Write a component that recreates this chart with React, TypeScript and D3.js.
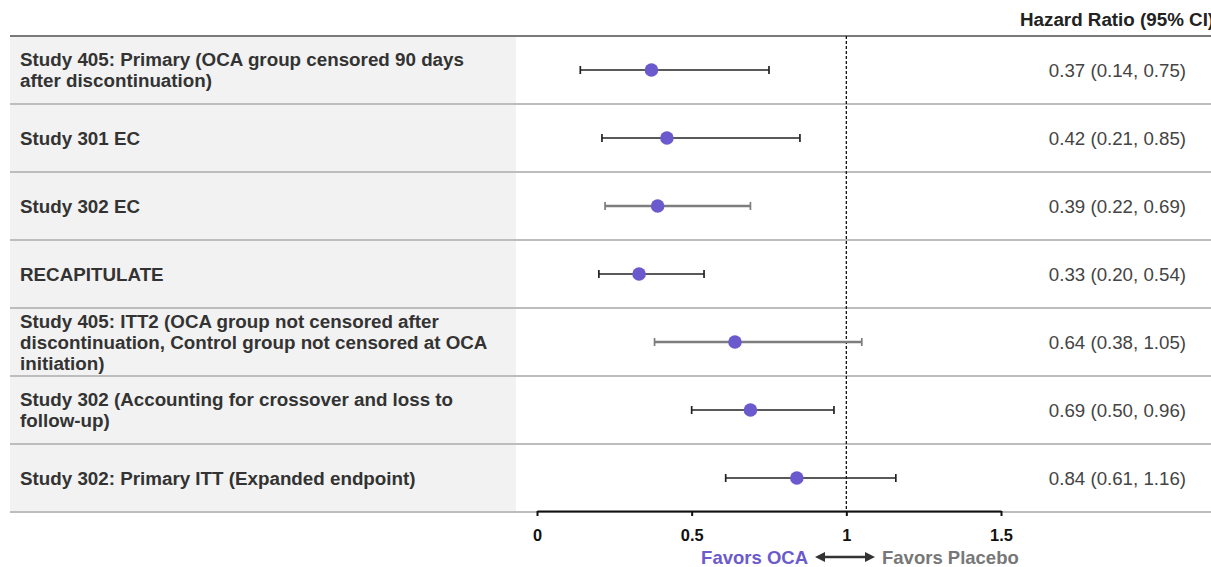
import React, { useEffect, useRef } from 'react';
import * as d3 from 'd3';

// study labels (already broken into lines as in the source)
const studyLabels: string[][] = [
  ['Study 405: Primary (OCA group censored 90 days', 'after discontinuation)'],
  ['Study 301 EC'],
  ['Study 302 EC'],
  ['RECAPITULATE'],
  ['Study 405: ITT2 (OCA group not censored after', 'discontinuation, Control group not censored at OCA', 'initiation)'],
  ['Study 302 (Accounting for crossover and loss to', 'follow-up)'],
  ['Study 302: Primary ITT (Expanded endpoint)'],
];
const hazardRatio = [0.37, 0.42, 0.39, 0.33, 0.64, 0.69, 0.84];
const ciLower = [0.14, 0.21, 0.22, 0.20, 0.38, 0.50, 0.61];
const ciUpper = [0.75, 0.85, 0.69, 0.54, 1.05, 0.96, 1.16];
// rows whose CI bar is drawn in grey in the original
const greyBar = [false, false, true, false, true, false, false];
const xTicks = [0, 0.5, 1, 1.5];

const W = 1211;
const H = 567;
const FONT = '"Liberation Sans", Arial, Helvetica, sans-serif';

const App: React.FC = () => {
  const svgRef = useRef<SVGSVGElement>(null);

  useEffect(() => {
    if (!svgRef.current) return;
    const svg = d3.select(svgRef.current);
    svg.selectAll('*').remove();

    const top = 36;
    const rowH = 68;
    const n = studyLabels.length;
    const bottom = top + rowH * n;

    const x = d3.scaleLinear().domain([0, 1.5]).range([537, 1001]);
    const y = d3.scaleBand<number>().domain(d3.range(n)).range([top, bottom]);
    const cy = (i: number) => (y(i) ?? 0) + y.bandwidth() / 2;

    // grey label panel
    svg.append('rect')
      .attr('x', 10).attr('y', top)
      .attr('width', 506).attr('height', bottom - top)
      .attr('fill', '#f2f2f2');

    // row separators
    svg.selectAll('.sep')
      .data(d3.range(1, n + 1))
      .enter().append('line')
      .attr('x1', 10).attr('x2', W)
      .attr('y1', d => top + d * rowH).attr('y2', d => top + d * rowH)
      .attr('stroke', '#bdbdbd').attr('stroke-width', 2);

    svg.append('line')
      .attr('x1', 10).attr('x2', W)
      .attr('y1', top).attr('y2', top)
      .attr('stroke', '#7a7a7a').attr('stroke-width', 2);

    // header (runs off the right edge in the original)
    svg.append('text')
      .attr('x', 1020).attr('y', 26)
      .style('font-family', FONT).style('font-size', '18.8px')
      .style('font-weight', 'bold').style('fill', '#222')
      .text('Hazard Ratio (95% CI)');

    // labels
    const lab = svg.selectAll('.lab')
      .data(studyLabels)
      .enter().append('text')
      .attr('class', 'lab')
      .style('font-family', FONT).style('font-size', '18.8px')
      .style('font-weight', 'bold').style('fill', '#333');
    lab.each(function (lines, i) {
      const t = d3.select(this);
      lines.forEach((ln, j) => {
        t.append('tspan')
          .attr('x', 20)
          .attr('y', cy(i) + (j - (lines.length - 1) / 2) * 21 + 6.5)
          .text(ln);
      });
    });

    // reference line at HR = 1
    svg.append('line')
      .attr('x1', x(1)).attr('x2', x(1))
      .attr('y1', top).attr('y2', bottom)
      .attr('stroke', '#111').attr('stroke-width', 1.3)
      .attr('stroke-dasharray', '3,2');

    // CI bars
    const bars = svg.selectAll('.ci')
      .data(hazardRatio.map((_, i) => i))
      .enter().append('g');
    const barColor = (i: number) => (greyBar[i] ? '#7d7d7d' : '#222');
    const barWidth = (i: number) => (greyBar[i] ? 2.4 : 1.7);
    bars.append('line')
      .attr('x1', i => x(ciLower[i])).attr('x2', i => x(ciUpper[i]))
      .attr('y1', cy).attr('y2', cy)
      .attr('stroke', barColor).attr('stroke-width', barWidth);
    bars.append('line')
      .attr('x1', i => x(ciLower[i])).attr('x2', i => x(ciLower[i]))
      .attr('y1', i => cy(i) - 4).attr('y2', i => cy(i) + 4)
      .attr('stroke', barColor).attr('stroke-width', 1.7);
    bars.append('line')
      .attr('x1', i => x(ciUpper[i])).attr('x2', i => x(ciUpper[i]))
      .attr('y1', i => cy(i) - 4).attr('y2', i => cy(i) + 4)
      .attr('stroke', barColor).attr('stroke-width', 1.7);
    bars.append('circle')
      .attr('cx', i => x(hazardRatio[i])).attr('cy', cy)
      .attr('r', 6.8)
      .attr('fill', '#6a5acd');

    // value text
    svg.selectAll('.val')
      .data(hazardRatio.map((_, i) => i))
      .enter().append('text')
      .attr('x', 1186).attr('y', i => cy(i) + 6.5)
      .attr('text-anchor', 'end')
      .style('font-family', FONT).style('font-size', '18.7px')
      .style('fill', '#444')
      .text(i => `${hazardRatio[i].toFixed(2)} (${ciLower[i].toFixed(2)}, ${ciUpper[i].toFixed(2)})`);

    // x axis
    const axis = svg.append('g')
      .attr('transform', `translate(0,${bottom - 1})`)
      .call(d3.axisBottom(x).tickValues(xTicks).tickSize(5).tickSizeOuter(0).tickPadding(13)
        .tickFormat(d => String(d)));
    axis.select('.domain').attr('stroke', '#111').attr('stroke-width', 2.2);
    axis.selectAll('.tick line').attr('stroke', '#111').attr('stroke-width', 2);
    axis.selectAll('.tick text')
      .style('font-family', FONT).style('font-size', '16.4px')
      .style('font-weight', 'bold').style('fill', '#111');

    // favours annotation
    const ay = 557;
    svg.append('text')
      .attr('x', 808).attr('y', ay + 6.5).attr('text-anchor', 'end')
      .style('font-family', FONT).style('font-size', '18.5px')
      .style('font-weight', 'bold').style('fill', '#6a5acd')
      .text('Favors OCA');
    svg.append('text')
      .attr('x', 882).attr('y', ay + 6.5)
      .style('font-family', FONT).style('font-size', '18.5px')
      .style('font-weight', 'bold').style('fill', '#777')
      .text('Favors Placebo');
    svg.append('line')
      .attr('x1', 822).attr('x2', 868).attr('y1', ay).attr('y2', ay)
      .attr('stroke', '#333').attr('stroke-width', 2.5);
    svg.append('path')
      .attr('d', `M815,${ay} L825,${ay - 5} L825,${ay + 5} Z M875,${ay} L865,${ay - 5} L865,${ay + 5} Z`)
      .attr('fill', '#333');
  }, []);

  return (
    <svg ref={svgRef} width={W} height={H}
      style={{ position: 'absolute', left: 0, top: 0, background: '#fff' }} />
  );
};

export default App;
